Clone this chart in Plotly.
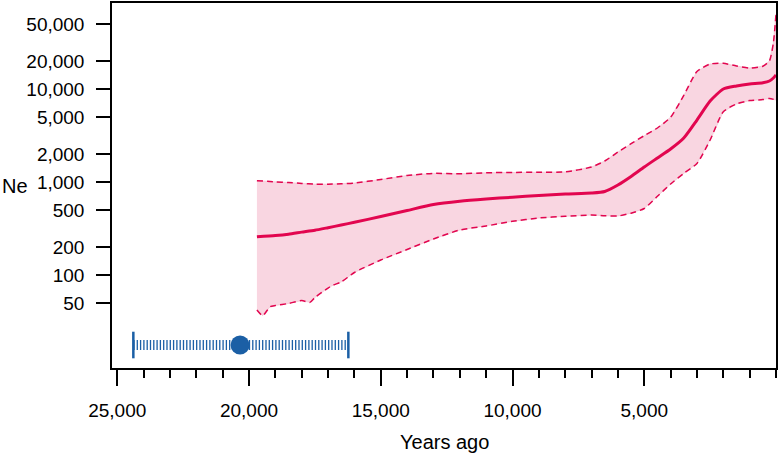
import plotly.graph_objects as go

# ---- data ----
years = [19700, 19000, 18500, 18000, 17500, 17000, 16500, 16000, 15000, 14000, 13000,
         12000, 11000, 10000, 9000, 8000, 7000, 6500, 6000, 5500, 5000, 4500, 4000,
         3500, 3000, 2500, 2000, 1500, 1000, 500, 250, 100, 0]
ne_median = [259, 267, 276, 290, 304, 324, 346, 370, 427, 496, 575,
             624, 659, 689, 719, 746, 765, 794, 933, 1152, 1458, 1822, 2277,
             2991, 4672, 7483, 10075, 10851, 11403, 11776, 12286, 13230, 14255]
ne_upper = [1038, 1010, 990, 971, 952, 952, 961, 978, 1069, 1181, 1244,
            1232, 1263, 1275, 1278, 1291, 1457, 1691, 2109, 2604, 3167, 3832, 5008,
            8597, 15547, 18720, 19050, 17815, 16956, 17729, 20165, 31506, 64657]

years_lower = [19700, 19480, 19200, 19000, 18500, 18000, 17690, 17500, 17000, 16800, 16500,
               16000, 15000, 14000, 13000, 12000, 11000, 10000, 9000, 8000, 7000, 6500,
               6000, 5500, 5000, 4500, 4000, 3500, 3000, 2500, 2000, 1500, 1000, 500, 250, 0]
ne_lower = [42.1, 36.6, 45.7, 47.1, 49.5, 53.3, 50.9, 57.4, 72.6, 78.2, 84.3,
            106.7, 145.4, 188.7, 244.7, 305.8, 337.7, 379.5, 411.8, 429.4, 443.5, 434.8,
            432.6, 463.8, 521.2, 705, 956, 1244, 1590, 2847, 5741, 6947, 7557, 7748, 7980, 7670]

date_estimate = 20340
date_low = 24390
date_high = 16230

y_tickvals = [50, 100, 200, 500, 1000, 2000, 5000, 10000, 20000, 50000]
y_ticktext = ["50", "100", "200", "500", "1,000", "2,000", "5,000", "10,000", "20,000", "50,000"]
x_tickvals = [25000, 20000, 15000, 10000, 5000]
x_ticktext = ["25,000", "20,000", "15,000", "10,000", "5,000"]

# ---- style ----
RED = "#E2064F"
FILL = "#F9D6E1"
BLUE = "#1B5FA5"
FONT = "Arial, Liberation Sans, sans-serif"

fig = go.Figure()

# confidence band
fig.add_trace(go.Scatter(
    x=years + years_lower[::-1], y=ne_upper + ne_lower[::-1],
    fill="toself", fillcolor=FILL, line=dict(width=0.6, color="#F2B8CB"),
    mode="lines", hoverinfo="skip", showlegend=False))
fig.add_trace(go.Scatter(x=years, y=ne_upper, mode="lines",
                         line=dict(color=RED, width=1.5, dash="6px,4px", shape="spline", smoothing=0.6),
                         showlegend=False))
fig.add_trace(go.Scatter(x=years_lower, y=ne_lower, mode="lines",
                         line=dict(color=RED, width=1.5, dash="6px,4px", shape="spline", smoothing=0.6),
                         showlegend=False))
fig.add_trace(go.Scatter(x=years, y=ne_median, mode="lines",
                         line=dict(color=RED, width=3, shape="spline", smoothing=0.6),
                         showlegend=False))

# date estimate bar (on hidden secondary axis)
BAR_Y = 0.063
fig.add_trace(go.Scatter(x=[date_low, date_high], y=[BAR_Y, BAR_Y], yaxis="y2", mode="lines",
                         line=dict(color=BLUE, width=10, dash="1.3px,2px"), showlegend=False))
fig.add_trace(go.Scatter(x=[date_low, date_high], y=[BAR_Y, BAR_Y], yaxis="y2", mode="markers",
                         marker=dict(symbol="line-ns", size=19, line=dict(color=BLUE, width=2.5)),
                         showlegend=False))
fig.add_trace(go.Scatter(x=[date_estimate], y=[BAR_Y], yaxis="y2", mode="markers",
                         marker=dict(symbol="circle", size=19, color=BLUE), showlegend=False))

fig.update_layout(
    width=780, height=456,
    margin=dict(l=112, r=4, t=3, b=88, autoexpand=False),
    paper_bgcolor="white", plot_bgcolor="white",
    font=dict(family=FONT, size=19, color="black"),
    showlegend=False,
    xaxis=dict(
        range=[25200, 0], showgrid=False, zeroline=False, automargin=False,
        showline=True, linecolor="black", linewidth=1.5, mirror=True,
        tickmode="array", tickvals=x_tickvals, ticktext=x_ticktext,
        ticks="outside", ticklen=16, tickwidth=1.5, tickcolor="black",
        ticklabelstandoff=8,
        minor=dict(dtick=1000, tick0=0, ticks="outside", ticklen=8, tickwidth=1.5,
                   tickcolor="black", showgrid=False),
    ),
    yaxis=dict(
        type="log", range=[1, 4.929], showgrid=False, zeroline=False, automargin=False,
        showline=True, linecolor="black", linewidth=1.5, mirror=True,
        tickmode="array", tickvals=y_tickvals, ticktext=y_ticktext,
        ticks="outside", ticklen=14, tickwidth=1.5, tickcolor="black",
        ticklabelstandoff=8,
    ),
    yaxis2=dict(overlaying="y", range=[0, 1], visible=False, showgrid=False),
    annotations=[
        dict(text="Ne", xref="paper", yref="paper", x=-0.146, y=0.5,
             xanchor="center", yanchor="middle", showarrow=False, font=dict(size=20)),
        dict(text="Years ago", xref="paper", yref="paper", x=0.5, y=-0.203,
             xanchor="center", yanchor="middle", showarrow=False, font=dict(size=20)),
    ],
)

fig.write_html("out.html", config={"displayModeBar": False},
               post_script="document.body.style.margin='0';document.body.style.padding='0';")
